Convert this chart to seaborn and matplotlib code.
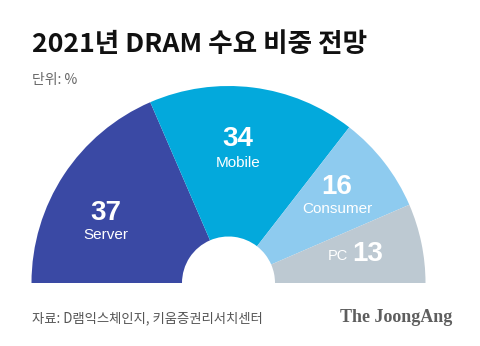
import matplotlib
matplotlib.use("Agg")
import matplotlib.pyplot as plt
import seaborn as sns

sns.set_theme(style="white")
plt.rcParams['font.family'] = ['Noto Sans CJK KR', 'DejaVu Sans']

categories = ["Server", "Mobile", "Consumer", "PC"]
values = [37, 34, 16, 13]
colors = ["#3a49a4", "#03a9dc", "#8ecbef", "#bdc9d2"]

title = "2021년 DRAM 수요 비중 전망"
unit = "단위: %"
source = "자료: D램익스체인지, 키움증권리서치센터"
logo = "The JoongAng"

W, H = 480, 346
fig = plt.figure(figsize=(W / 100, H / 100), dpi=100)
ax = fig.add_axes([0, 0, 1, 1])

cx, cy, R, r_in = 228.5, 63.0, 197.0, 46.5
total = sum(values)
wedges, _ = ax.pie(values + [total], colors=colors + ["none"], startangle=180,
                   counterclock=False, radius=R, center=(cx, cy),
                   wedgeprops=dict(width=R - r_in, linewidth=0))
ax.set_xlim(0, W)
ax.set_ylim(0, H)
ax.set_aspect("equal")
ax.axis("off")

num_font = "Liberation Sans"
# Labels
ax.text(106, H - 213, str(values[0]), ha="center", va="center", color="white",
        fontsize=20, fontweight="bold", family=num_font)
ax.text(106, H - 235, categories[0], ha="center", va="center", color="white",
        fontsize=11, family=num_font)
ax.text(238, H - 139, str(values[1]), ha="center", va="center", color="white",
        fontsize=20, fontweight="bold", family=num_font)
ax.text(238, H - 163, categories[1], ha="center", va="center", color="white",
        fontsize=11, family=num_font)
ax.text(337, H - 187, str(values[2]), ha="center", va="center", color="white",
        fontsize=20, fontweight="bold", family=num_font)
ax.text(337, H - 209, categories[2], ha="center", va="center", color="white",
        fontsize=11, family=num_font)
ax.text(348, H - 256, categories[3], ha="right", va="center", color="white",
        fontsize=10.5, family=num_font)
ax.text(352, H - 254, str(values[3]), ha="left", va="center", color="white",
        fontsize=20, fontweight="bold", family=num_font)

fig.text(32 / W, 1 - 44 / H, title, ha="left", va="center", fontsize=19.2,
         fontweight="bold", color="#111111")
fig.text(32 / W, 1 - 80 / H, unit, ha="left", va="center", fontsize=10,
         color="#666666")
fig.text(32 / W, 1 - 318 / H, source, ha="left", va="center", fontsize=9.6,
         color="#555555")
fig.text(452 / W, 1 - 318 / H, logo, ha="right", va="center", fontsize=13,
         fontweight="bold", color="#5e5e5e", family="Liberation Serif")

fig.savefig("out.png", dpi=100)
